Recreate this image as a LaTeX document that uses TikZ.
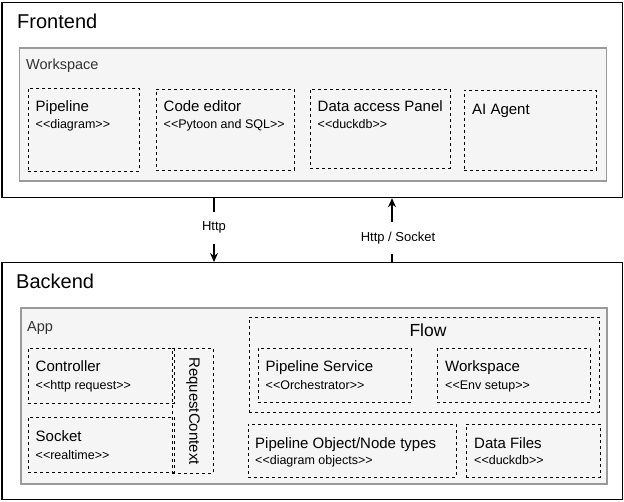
\documentclass[tikz,border=0pt]{standalone}
\usepackage{fontspec}
\setmainfont{Liberation Sans}
\usetikzlibrary{arrows.meta,positioning}
\definecolor{grpfill}{HTML}{F5F5F5}
\definecolor{grpline}{HTML}{9A9A9A}
\definecolor{grptext}{HTML}{333333}
% << and >> would turn into guillemets under the TeX mapping
\newcommand\stereo[1]{<\kern0pt<#1>\kern0pt>}

\begin{document}
\begin{tikzpicture}[
		  x=1pt, y=-1pt, >={Stealth[length=9pt,width=8pt]},
		  outer/.style={draw, line width=1.2pt, anchor=north west, inner sep=0},
		  group/.style={draw=grpline, fill=grpfill, line width=1.5pt, anchor=north west, inner sep=0},
		  part/.style={draw, dash pattern=on 3pt off 3pt, line width=0.9pt, anchor=north west, inner sep=0},
		  head/.style={anchor=base west, inner sep=0, font=\fontsize{20}{24}\selectfont},
		  glabel/.style={anchor=base west, inner sep=0, text=grptext, font=\fontsize{14.5}{17}\selectfont},
		  ttl/.style={anchor=base west, inner sep=0, font=\fontsize{15}{17}\selectfont},
		  st/.style={anchor=base west, inner sep=0, font=\fontsize{12.5}{14}\selectfont},
		  lbl/.style={fill=white, font=\fontsize{13}{15}\selectfont, minimum height=32pt, inner xsep=1pt}
		]
		\useasboundingbox (0,0) rectangle (624,501);
		
		% frontend
		\node[outer, minimum width=620.5pt, minimum height=195.5pt] (fe) at (1.5,1.5) {};
		\node[head] (fe_t) at (17,28) {Frontend};
		\node[group, minimum width=587pt, minimum height=133pt] (fe_ws) at (18.5,47) {};
		\node[glabel] (fe_ws_t) at (26,69) {Workspace};
		
		\node[part, minimum width=111pt, minimum height=83pt] (fe_pipe) at (28,88) {};
		\node[ttl] (fe_pipe_t) at ([shift={(7.5,23)}]fe_pipe.north west) {Pipeline};
		\node[st]  (fe_pipe_s) at ([shift={(7.5,40)}]fe_pipe.north west) {\stereo{diagram}};
		\node[part, minimum width=138pt, minimum height=81pt] (fe_code) at (156,89) {};
		\node[ttl] (fe_code_t) at ([shift={(7.5,22)}]fe_code.north west) {Code editor};
		\node[st]  (fe_code_s) at ([shift={(7.5,39)}]fe_code.north west) {\stereo{Pytoon and SQL}};
		\node[part, minimum width=140pt, minimum height=79pt] (fe_data) at (310,89) {};
		\node[ttl] (fe_data_t) at ([shift={(7.5,22)}]fe_data.north west) {Data access Panel};
		\node[st]  (fe_data_s) at ([shift={(7.5,39)}]fe_data.north west) {\stereo{duckdb}};
		\node[part, minimum width=132pt, minimum height=80pt] (fe_ai) at (464,90) {};
		\node[ttl] (fe_ai_t) at ([shift={(8,24)}]fe_ai.north west) {AI Agent};
		
		% backend
		\node[outer, minimum width=620.5pt, minimum height=236.5pt] (be) at (1.5,262) {};
		\node[head] (be_t) at (16,288) {Backend};
		\node[group, minimum width=586pt, minimum height=176pt] (be_app) at (20,307) {};
		\node[glabel] (be_app_t) at (27,331) {App};
		
		\node[part, minimum width=146pt, minimum height=55pt] (be_ctrl) at (28,348) {};
		\node[ttl] (be_ctrl_t) at ([shift={(7.5,23)}]be_ctrl.north west) {Controller};
		\node[st]  (be_ctrl_s) at ([shift={(7.5,41)}]be_ctrl.north west) {\stereo{http request}};
		\node[part, minimum width=146pt, minimum height=55pt] (be_sock) at (28,417) {};
		\node[ttl] (be_sock_t) at ([shift={(7.5,24)}]be_sock.north west) {Socket};
		\node[st]  (be_sock_s) at ([shift={(7.5,42)}]be_sock.north west) {\stereo{realtime}};
		\node[part, minimum width=41pt, minimum height=125pt] (be_rctx) at (172,348) {};
		\node[ttl, anchor=center, rotate=-90] (be_rctx_t) at (be_rctx.center) {RequestContext};
		
		\node[part, minimum width=350pt, minimum height=95pt] (be_flow) at (249,317) {};
		\node[anchor=base, inner sep=0, font=\fontsize{17.5}{21}\selectfont] (be_flow_t) at (428,336) {Flow};
		\node[part, minimum width=153pt, minimum height=54pt] (be_psvc) at (257.5,348) {};
		\node[ttl] (be_psvc_t) at ([shift={(8,23)}]be_psvc.north west) {Pipeline Service};
		\node[st]  (be_psvc_s) at ([shift={(8,41)}]be_psvc.north west) {\stereo{Orchestrator}};
		\node[part, minimum width=153pt, minimum height=54pt] (be_ws) at (437,348) {};
		\node[ttl] (be_ws_t) at ([shift={(8,23)}]be_ws.north west) {Workspace};
		\node[st]  (be_ws_s) at ([shift={(8,41)}]be_ws.north west) {\stereo{Env setup}};
		
		\node[part, minimum width=208pt, minimum height=53pt] (be_pobj) at (247.5,424) {};
		\node[ttl] (be_pobj_t) at ([shift={(7.5,24)}]be_pobj.north west) {Pipeline Object/Node types};
		\node[st]  (be_pobj_s) at ([shift={(7.5,40)}]be_pobj.north west) {\stereo{diagram objects}};
		\node[part, minimum width=134pt, minimum height=53pt] (be_data) at (466,424) {};
		\node[ttl] (be_data_t) at ([shift={(8,24)}]be_data.north west) {Data Files};
		\node[st]  (be_data_s) at ([shift={(8,40)}]be_data.north west) {\stereo{duckdb}};
		
		% links
		\coordinate (http_x) at (214,0);
		\coordinate (sock_x) at (392,0);
		\draw[->, line width=1.1pt] (fe.south -| http_x) -- (be.north -| http_x) node[lbl, pos=0.46] (http_l) {Http};
		\draw[->, line width=1.1pt] (be.north -| sock_x) -- (fe.south -| sock_x) node[lbl, pos=0.37, xshift=6pt] (sock_l) {Http / Socket};
		\end{tikzpicture}
\end{document}
